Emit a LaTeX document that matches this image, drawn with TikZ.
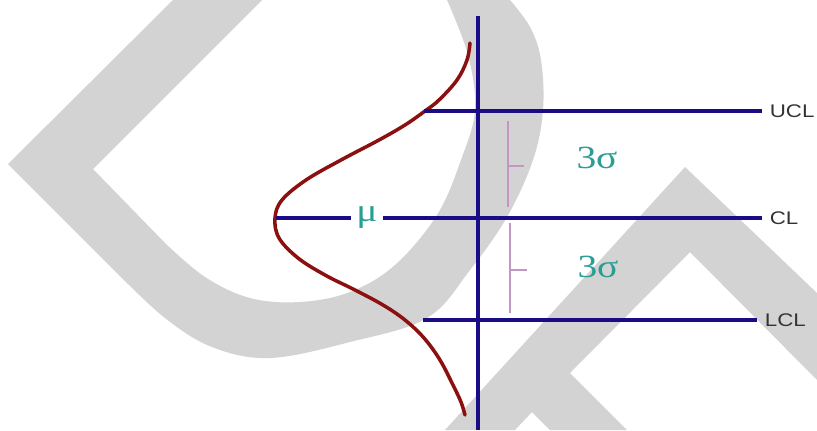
\documentclass[tikz,border=0pt]{standalone}
\usepackage{fontspec}
\setmainfont{Liberation Serif}
\newfontfamily\labelfont{Liberation Sans}
\usepackage{xcolor}
\usepackage{graphicx}
\usepackage{tikz}
\usetikzlibrary{positioning}
\definecolor{LineNavy}{RGB}{26,12,132}
\definecolor{CurveRed}{RGB}{140,16,16}
\definecolor{SigmaTeal}{RGB}{42,158,148}
\definecolor{BracketPink}{RGB}{196,150,196}
\definecolor{MarkGray}{RGB}{211,211,211}
\newcommand{\widetxt}[1]{\scalebox{1.22}[1]{#1}}

\begin{document}
\begin{tikzpicture}[x=0.025cm,y=-0.025cm,
    limit/.style={draw=LineNavy,line width=2.5pt},
    lbl/.style={font=\labelfont\fontsize{13}{13}\selectfont,text=black!80,anchor=west,
                inner xsep=5.4pt,inner ysep=0pt},
    greek/.style={font=\fontsize{23}{23}\selectfont,text=SigmaTeal,inner sep=0pt},
    brace/.style={draw=BracketPink,line width=0.9pt},
    bell/.style={draw=CurveRed,line width=2.5pt,line cap=round},
    wmark/.style={fill=MarkGray}
  ]
  \fill[white] (0,0) rectangle (817,430);
  \useasboundingbox (0,0) rectangle (817,430);
  % background marks
  \fill[wmark] (173,0) -- (8,164) -- plot[smooth,tension=0.6] coordinates
      {(120,276) (165,318) (212,347) (270,358) (350,342) (427,318) (470,270)
       (507,217) (533,160) (543,110) (541,60) (530,27) (510,0)}
    -- plot[smooth,tension=0.6] coordinates
      {(447,0) (468,55) (475,110) (461,160) (437,215) (395,265) (350,292)
       (300,302) (250,298) (205,277) (165,243)}
    -- (93,169) -- (262,0) -- cycle;
  \fill[wmark] (445,430) -- (685,167) -- (817,293) -- (817,380) -- (690,252)
    -- (570,373) -- (627,430) -- (550,430) -- (532,412) -- (515,430) -- cycle;

  % axis and limits
  \coordinate (axtop) at (478,16);
  \coordinate (axbot) at (478,430);
  \coordinate (uclstart) at (424,111);
  \coordinate (peak) at (276,218);
  \coordinate (lclstart) at (423,320);
  \node[lbl] (ucl) at (762,111) {\widetxt{UCL}};
  \node[lbl] (cl) at (762,218) {\widetxt{CL}};
  \node[lbl] (lcl) at (757,320) {\widetxt{LCL}};
  \node[greek,inner xsep=4pt] (mu) at (367,218) {\widetxt{μ}};
  \node[greek] (sigup) at (597,158) {\widetxt{3σ}};
  \node[greek] (siglow) at (598,267) {\widetxt{3σ}};

  \draw[bell] plot[smooth,tension=0.6] coordinates
      {(470,43) (467,60) (457,80) (439,100) (425,111) (405,125) (379,140)
       (341,160) (306,180) (282,200) (275,218) (279,238) (298,258) (325,275)
       (355,290) (383,305) (405,320) (424,338) (440,360) (453,385) (461,402)
       (465,415)};

  \draw[limit] (uclstart) -- (ucl.west);
  \draw[limit] (peak) -- (mu.west);
  \draw[limit] (mu.east) -- (cl.west);
  \draw[limit] (lclstart) -- (lcl.west);
  \draw[limit] (axtop) -- (axbot);

  % sigma brackets
  \draw[brace] (508,121) -- (508,207) (508,166) -- (524,166);
  \draw[brace] (510,223) -- (510,313) (510,270) -- (527,270);
\end{tikzpicture}
\end{document}
